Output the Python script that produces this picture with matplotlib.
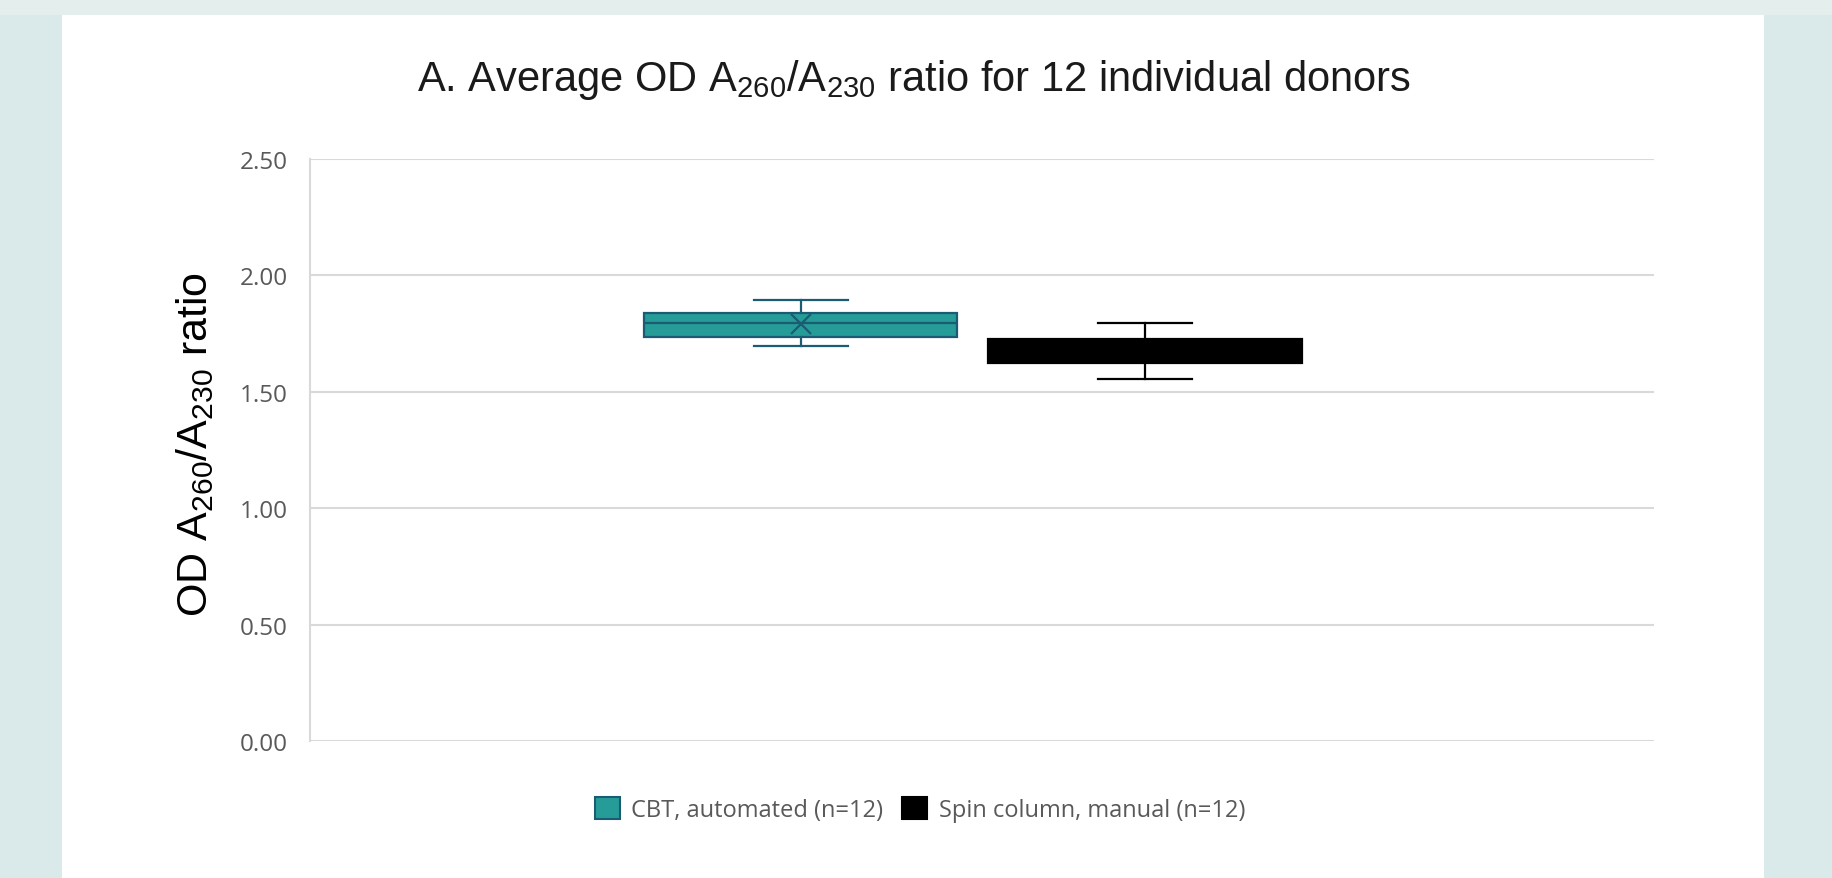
import matplotlib.pyplot as plt
from matplotlib.patches import Patch, Rectangle

# Resumen de las cajas (12 donantes por método)
methods = ["CBT, automated", "Spin column, manual"]
n_donors = [12, 12]
whisker_low = [1.697, 1.555]
q1 = [1.735, 1.622]
median = [1.796, 1.675]
q3 = [1.838, 1.727]
whisker_high = [1.894, 1.795]
mean = [1.79, 1.675]

y_ticks = [0.0, 0.5, 1.0, 1.5, 2.0, 2.5]

face_colors = ["#259C97", "#000000"]
edge_colors = ["#1C5B74", "#000000"]

plt.rcParams["mathtext.fontset"] = "custom"
plt.rcParams["mathtext.rm"] = "Liberation Sans"
plt.rcParams["mathtext.it"] = "Liberation Sans"

W, H = 1833, 879
fig = plt.figure(figsize=(W / 100, H / 100), dpi=100)
fig.patch.set_facecolor("#DAE9E9")
# franja superior más clara y panel blanco
fig.patches.append(Rectangle((0, 1 - 16 / H), 1, 16 / H, transform=fig.transFigure,
                             facecolor="#E4EEED", edgecolor="none", zorder=-6))
fig.patches.append(Rectangle((62 / W, 0), (1764 - 62) / W, 1 - 16 / H,
                             transform=fig.transFigure, facecolor="white",
                             edgecolor="none", zorder=-5))

ax = fig.add_axes([310 / W, 1 - 742 / H, (1654 - 310) / W, (742 - 160) / H])
ax.set_facecolor("none")

positions = [0.365, 0.6213]
for i in range(len(methods)):
    stats = [{
        "whislo": whisker_low[i], "q1": q1[i], "med": median[i],
        "q3": q3[i], "whishi": whisker_high[i], "mean": mean[i],
        "fliers": [],
    }]
    ec = edge_colors[i]
    ax.bxp(stats, positions=[positions[i]], widths=0.233, capwidths=0.07,
           patch_artist=True, showmeans=True, showfliers=False,
           boxprops=dict(facecolor=face_colors[i], edgecolor=ec, linewidth=1.6),
           medianprops=dict(color=ec, linewidth=1.6),
           whiskerprops=dict(color=ec, linewidth=1.6),
           capprops=dict(color=ec, linewidth=1.6),
           meanprops=dict(marker="x", markeredgecolor=ec, markersize=14,
                          markeredgewidth=1.6),
           zorder=3)

ax.set_xlim(0, 1)
ax.set_ylim(0, 2.5)
ax.set_yticks(y_ticks)
ax.set_yticklabels([f"{v:.2f}" for v in y_ticks], fontfamily="Open Sans",
                   fontsize=17.5, color="#595959")
ax.set_xticks([])
ax.tick_params(axis="y", length=0, pad=16)
ax.grid(axis="y", color="#D9D9D9", linewidth=1.5, zorder=0)
ax.set_axisbelow(True)
for side in ["top", "right", "bottom"]:
    ax.spines[side].set_visible(False)
ax.spines["left"].set_color("#D9D9D9")
ax.spines["left"].set_linewidth(1.5)

fig.text(0.4986, 0.909,
         r"A. Average OD A$_{260}$/A$_{230}$ ratio for 12 individual donors",
         ha="center", va="center", fontfamily="Liberation Sans", fontsize=30,
         color="#1a1a1a")
fig.text(0.1064, 0.4949, r"OD A$_{260}$/A$_{230}$ ratio", rotation=90,
         ha="center", va="center", fontfamily="Liberation Sans", fontsize=31,
         color="black")

handles = [Patch(facecolor=face_colors[i], edgecolor=edge_colors[i], linewidth=1.5)
           for i in range(len(methods))]
labels = [f"{methods[i]} (n={n_donors[i]})" for i in range(len(methods))]
fig.legend(handles, labels, loc="center", bbox_to_anchor=(920 / W, 1 - 810.5 / H),
           ncol=2, frameon=False, handlelength=1.05, handleheight=1.05,
           handletextpad=0.5, columnspacing=0.8,
           prop={"family": "Open Sans", "size": 17}, labelcolor="#595959")

fig.savefig("out.png", dpi=100, facecolor=fig.get_facecolor())
